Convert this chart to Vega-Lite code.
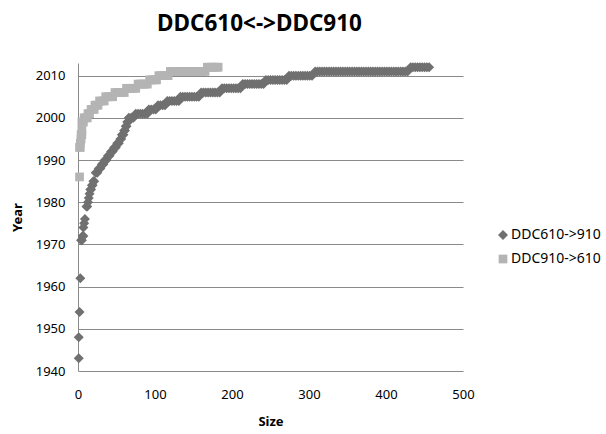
{
  "$schema": "https://vega.github.io/schema/vega-lite/v6.json",
  "width": 385,
  "height": 308,
  "autosize": {"type": "none"},
  "padding": {"left": 78, "top": 63, "right": 143, "bottom": 63},
  "background": "white",
  "title": {
    "text": "DDC610<->DDC910",
    "font": "Noto Sans",
    "fontSize": 22.5,
    "fontWeight": "bold",
    "color": "#000000",
    "anchor": "middle",
    "dx": -11,
    "offset": 27
  },
  "config": {
    "view": {"stroke": null},
    "font": "Noto Sans"
  },
  "datasets": {
    "pts": [
      {"series": "DDC610->910", "size": 1, "year": 1943},
      {"series": "DDC610->910", "size": 1, "year": 1948},
      {"series": "DDC610->910", "size": 2, "year": 1954},
      {"series": "DDC610->910", "size": 3, "year": 1962},
      {"series": "DDC610->910", "size": 4, "year": 1971},
      {"series": "DDC610->910", "size": 5, "year": 1971},
      {"series": "DDC610->910", "size": 6, "year": 1972},
      {"series": "DDC610->910", "size": 7, "year": 1972},
      {"series": "DDC610->910", "size": 7, "year": 1974},
      {"series": "DDC610->910", "size": 8, "year": 1975},
      {"series": "DDC610->910", "size": 9, "year": 1976},
      {"series": "DDC610->910", "size": 11, "year": 1979},
      {"series": "DDC610->910", "size": 12, "year": 1979},
      {"series": "DDC610->910", "size": 13, "year": 1980},
      {"series": "DDC610->910", "size": 14, "year": 1981},
      {"series": "DDC610->910", "size": 15, "year": 1982},
      {"series": "DDC610->910", "size": 16, "year": 1983},
      {"series": "DDC610->910", "size": 17, "year": 1983},
      {"series": "DDC610->910", "size": 18, "year": 1984},
      {"series": "DDC610->910", "size": 19, "year": 1984},
      {"series": "DDC610->910", "size": 20, "year": 1985},
      {"series": "DDC610->910", "size": 21, "year": 1985},
      {"series": "DDC610->910", "size": 23, "year": 1987},
      {"series": "DDC610->910", "size": 25, "year": 1987},
      {"series": "DDC610->910", "size": 27, "year": 1988},
      {"series": "DDC610->910", "size": 29, "year": 1988},
      {"series": "DDC610->910", "size": 31, "year": 1989},
      {"series": "DDC610->910", "size": 33, "year": 1989},
      {"series": "DDC610->910", "size": 35, "year": 1990},
      {"series": "DDC610->910", "size": 37, "year": 1990},
      {"series": "DDC610->910", "size": 39, "year": 1991},
      {"series": "DDC610->910", "size": 41, "year": 1991},
      {"series": "DDC610->910", "size": 43, "year": 1992},
      {"series": "DDC610->910", "size": 45, "year": 1992},
      {"series": "DDC610->910", "size": 47, "year": 1993},
      {"series": "DDC610->910", "size": 49, "year": 1993},
      {"series": "DDC610->910", "size": 51, "year": 1994},
      {"series": "DDC610->910", "size": 53, "year": 1994},
      {"series": "DDC610->910", "size": 55, "year": 1995},
      {"series": "DDC610->910", "size": 56, "year": 1995},
      {"series": "DDC610->910", "size": 57, "year": 1996},
      {"series": "DDC610->910", "size": 59, "year": 1996},
      {"series": "DDC610->910", "size": 60, "year": 1997},
      {"series": "DDC610->910", "size": 61, "year": 1997},
      {"series": "DDC610->910", "size": 62, "year": 1998},
      {"series": "DDC610->910", "size": 63, "year": 1998},
      {"series": "DDC610->910", "size": 64, "year": 1999},
      {"series": "DDC610->910", "size": 65, "year": 1999},
      {"series": "DDC610->910", "size": 66, "year": 2000},
      {"series": "DDC610->910", "size": 69, "year": 2000},
      {"series": "DDC610->910", "size": 72, "year": 2000},
      {"series": "DDC610->910", "size": 75, "year": 2001},
      {"series": "DDC610->910", "size": 78, "year": 2001},
      {"series": "DDC610->910", "size": 81, "year": 2001},
      {"series": "DDC610->910", "size": 84, "year": 2001},
      {"series": "DDC610->910", "size": 87, "year": 2001},
      {"series": "DDC610->910", "size": 90, "year": 2001},
      {"series": "DDC610->910", "size": 92, "year": 2002},
      {"series": "DDC610->910", "size": 95, "year": 2002},
      {"series": "DDC610->910", "size": 98, "year": 2002},
      {"series": "DDC610->910", "size": 101, "year": 2002},
      {"series": "DDC610->910", "size": 104, "year": 2003},
      {"series": "DDC610->910", "size": 107, "year": 2003},
      {"series": "DDC610->910", "size": 110, "year": 2003},
      {"series": "DDC610->910", "size": 113, "year": 2003},
      {"series": "DDC610->910", "size": 116, "year": 2004},
      {"series": "DDC610->910", "size": 119, "year": 2004},
      {"series": "DDC610->910", "size": 122, "year": 2004},
      {"series": "DDC610->910", "size": 125, "year": 2004},
      {"series": "DDC610->910", "size": 128, "year": 2004},
      {"series": "DDC610->910", "size": 131, "year": 2004},
      {"series": "DDC610->910", "size": 133, "year": 2005},
      {"series": "DDC610->910", "size": 136, "year": 2005},
      {"series": "DDC610->910", "size": 139, "year": 2005},
      {"series": "DDC610->910", "size": 142, "year": 2005},
      {"series": "DDC610->910", "size": 145, "year": 2005},
      {"series": "DDC610->910", "size": 148, "year": 2005},
      {"series": "DDC610->910", "size": 151, "year": 2005},
      {"series": "DDC610->910", "size": 154, "year": 2005},
      {"series": "DDC610->910", "size": 157, "year": 2005},
      {"series": "DDC610->910", "size": 160, "year": 2006},
      {"series": "DDC610->910", "size": 163, "year": 2006},
      {"series": "DDC610->910", "size": 166, "year": 2006},
      {"series": "DDC610->910", "size": 169, "year": 2006},
      {"series": "DDC610->910", "size": 172, "year": 2006},
      {"series": "DDC610->910", "size": 175, "year": 2006},
      {"series": "DDC610->910", "size": 178, "year": 2006},
      {"series": "DDC610->910", "size": 181, "year": 2006},
      {"series": "DDC610->910", "size": 184, "year": 2006},
      {"series": "DDC610->910", "size": 187, "year": 2007},
      {"series": "DDC610->910", "size": 190, "year": 2007},
      {"series": "DDC610->910", "size": 193, "year": 2007},
      {"series": "DDC610->910", "size": 196, "year": 2007},
      {"series": "DDC610->910", "size": 199, "year": 2007},
      {"series": "DDC610->910", "size": 202, "year": 2007},
      {"series": "DDC610->910", "size": 205, "year": 2007},
      {"series": "DDC610->910", "size": 208, "year": 2007},
      {"series": "DDC610->910", "size": 211, "year": 2007},
      {"series": "DDC610->910", "size": 214, "year": 2008},
      {"series": "DDC610->910", "size": 217, "year": 2008},
      {"series": "DDC610->910", "size": 220, "year": 2008},
      {"series": "DDC610->910", "size": 223, "year": 2008},
      {"series": "DDC610->910", "size": 226, "year": 2008},
      {"series": "DDC610->910", "size": 229, "year": 2008},
      {"series": "DDC610->910", "size": 232, "year": 2008},
      {"series": "DDC610->910", "size": 235, "year": 2008},
      {"series": "DDC610->910", "size": 238, "year": 2008},
      {"series": "DDC610->910", "size": 241, "year": 2008},
      {"series": "DDC610->910", "size": 244, "year": 2009},
      {"series": "DDC610->910", "size": 247, "year": 2009},
      {"series": "DDC610->910", "size": 250, "year": 2009},
      {"series": "DDC610->910", "size": 253, "year": 2009},
      {"series": "DDC610->910", "size": 256, "year": 2009},
      {"series": "DDC610->910", "size": 259, "year": 2009},
      {"series": "DDC610->910", "size": 262, "year": 2009},
      {"series": "DDC610->910", "size": 265, "year": 2009},
      {"series": "DDC610->910", "size": 268, "year": 2009},
      {"series": "DDC610->910", "size": 271, "year": 2009},
      {"series": "DDC610->910", "size": 274, "year": 2010},
      {"series": "DDC610->910", "size": 277, "year": 2010},
      {"series": "DDC610->910", "size": 280, "year": 2010},
      {"series": "DDC610->910", "size": 283, "year": 2010},
      {"series": "DDC610->910", "size": 286, "year": 2010},
      {"series": "DDC610->910", "size": 289, "year": 2010},
      {"series": "DDC610->910", "size": 292, "year": 2010},
      {"series": "DDC610->910", "size": 295, "year": 2010},
      {"series": "DDC610->910", "size": 298, "year": 2010},
      {"series": "DDC610->910", "size": 301, "year": 2010},
      {"series": "DDC610->910", "size": 304, "year": 2010},
      {"series": "DDC610->910", "size": 308, "year": 2011},
      {"series": "DDC610->910", "size": 311, "year": 2011},
      {"series": "DDC610->910", "size": 314, "year": 2011},
      {"series": "DDC610->910", "size": 317, "year": 2011},
      {"series": "DDC610->910", "size": 320, "year": 2011},
      {"series": "DDC610->910", "size": 323, "year": 2011},
      {"series": "DDC610->910", "size": 326, "year": 2011},
      {"series": "DDC610->910", "size": 329, "year": 2011},
      {"series": "DDC610->910", "size": 332, "year": 2011},
      {"series": "DDC610->910", "size": 335, "year": 2011},
      {"series": "DDC610->910", "size": 338, "year": 2011},
      {"series": "DDC610->910", "size": 341, "year": 2011},
      {"series": "DDC610->910", "size": 344, "year": 2011},
      {"series": "DDC610->910", "size": 347, "year": 2011},
      {"series": "DDC610->910", "size": 350, "year": 2011},
      {"series": "DDC610->910", "size": 353, "year": 2011},
      {"series": "DDC610->910", "size": 356, "year": 2011},
      {"series": "DDC610->910", "size": 359, "year": 2011},
      {"series": "DDC610->910", "size": 362, "year": 2011},
      {"series": "DDC610->910", "size": 365, "year": 2011},
      {"series": "DDC610->910", "size": 368, "year": 2011},
      {"series": "DDC610->910", "size": 371, "year": 2011},
      {"series": "DDC610->910", "size": 374, "year": 2011},
      {"series": "DDC610->910", "size": 377, "year": 2011},
      {"series": "DDC610->910", "size": 380, "year": 2011},
      {"series": "DDC610->910", "size": 383, "year": 2011},
      {"series": "DDC610->910", "size": 386, "year": 2011},
      {"series": "DDC610->910", "size": 389, "year": 2011},
      {"series": "DDC610->910", "size": 392, "year": 2011},
      {"series": "DDC610->910", "size": 395, "year": 2011},
      {"series": "DDC610->910", "size": 398, "year": 2011},
      {"series": "DDC610->910", "size": 401, "year": 2011},
      {"series": "DDC610->910", "size": 404, "year": 2011},
      {"series": "DDC610->910", "size": 407, "year": 2011},
      {"series": "DDC610->910", "size": 410, "year": 2011},
      {"series": "DDC610->910", "size": 413, "year": 2011},
      {"series": "DDC610->910", "size": 416, "year": 2011},
      {"series": "DDC610->910", "size": 419, "year": 2011},
      {"series": "DDC610->910", "size": 422, "year": 2011},
      {"series": "DDC610->910", "size": 425, "year": 2011},
      {"series": "DDC610->910", "size": 428, "year": 2011},
      {"series": "DDC610->910", "size": 432, "year": 2012},
      {"series": "DDC610->910", "size": 435, "year": 2012},
      {"series": "DDC610->910", "size": 438, "year": 2012},
      {"series": "DDC610->910", "size": 441, "year": 2012},
      {"series": "DDC610->910", "size": 444, "year": 2012},
      {"series": "DDC610->910", "size": 447, "year": 2012},
      {"series": "DDC610->910", "size": 450, "year": 2012},
      {"series": "DDC610->910", "size": 453, "year": 2012},
      {"series": "DDC610->910", "size": 456, "year": 2012},
      {"series": "DDC910->610", "size": 2, "year": 1986},
      {"series": "DDC910->610", "size": 2, "year": 1993},
      {"series": "DDC910->610", "size": 3, "year": 1993},
      {"series": "DDC910->610", "size": 3, "year": 1994},
      {"series": "DDC910->610", "size": 4, "year": 1995},
      {"series": "DDC910->610", "size": 4, "year": 1996},
      {"series": "DDC910->610", "size": 5, "year": 1996},
      {"series": "DDC910->610", "size": 5, "year": 1997},
      {"series": "DDC910->610", "size": 5, "year": 1999},
      {"series": "DDC910->610", "size": 7, "year": 1999},
      {"series": "DDC910->610", "size": 8, "year": 2000},
      {"series": "DDC910->610", "size": 10, "year": 2000},
      {"series": "DDC910->610", "size": 12, "year": 2000},
      {"series": "DDC910->610", "size": 13, "year": 2001},
      {"series": "DDC910->610", "size": 15, "year": 2001},
      {"series": "DDC910->610", "size": 17, "year": 2002},
      {"series": "DDC910->610", "size": 19, "year": 2002},
      {"series": "DDC910->610", "size": 21, "year": 2002},
      {"series": "DDC910->610", "size": 22, "year": 2003},
      {"series": "DDC910->610", "size": 24, "year": 2003},
      {"series": "DDC910->610", "size": 26, "year": 2003},
      {"series": "DDC910->610", "size": 28, "year": 2004},
      {"series": "DDC910->610", "size": 31, "year": 2004},
      {"series": "DDC910->610", "size": 34, "year": 2004},
      {"series": "DDC910->610", "size": 36, "year": 2005},
      {"series": "DDC910->610", "size": 39, "year": 2005},
      {"series": "DDC910->610", "size": 42, "year": 2005},
      {"series": "DDC910->610", "size": 45, "year": 2005},
      {"series": "DDC910->610", "size": 48, "year": 2006},
      {"series": "DDC910->610", "size": 51, "year": 2006},
      {"series": "DDC910->610", "size": 54, "year": 2006},
      {"series": "DDC910->610", "size": 57, "year": 2006},
      {"series": "DDC910->610", "size": 60, "year": 2006},
      {"series": "DDC910->610", "size": 63, "year": 2007},
      {"series": "DDC910->610", "size": 66, "year": 2007},
      {"series": "DDC910->610", "size": 69, "year": 2007},
      {"series": "DDC910->610", "size": 72, "year": 2007},
      {"series": "DDC910->610", "size": 75, "year": 2007},
      {"series": "DDC910->610", "size": 78, "year": 2008},
      {"series": "DDC910->610", "size": 81, "year": 2008},
      {"series": "DDC910->610", "size": 84, "year": 2008},
      {"series": "DDC910->610", "size": 87, "year": 2008},
      {"series": "DDC910->610", "size": 90, "year": 2008},
      {"series": "DDC910->610", "size": 93, "year": 2009},
      {"series": "DDC910->610", "size": 96, "year": 2009},
      {"series": "DDC910->610", "size": 99, "year": 2009},
      {"series": "DDC910->610", "size": 102, "year": 2009},
      {"series": "DDC910->610", "size": 105, "year": 2010},
      {"series": "DDC910->610", "size": 108, "year": 2010},
      {"series": "DDC910->610", "size": 111, "year": 2010},
      {"series": "DDC910->610", "size": 114, "year": 2010},
      {"series": "DDC910->610", "size": 117, "year": 2010},
      {"series": "DDC910->610", "size": 120, "year": 2011},
      {"series": "DDC910->610", "size": 123, "year": 2011},
      {"series": "DDC910->610", "size": 126, "year": 2011},
      {"series": "DDC910->610", "size": 129, "year": 2011},
      {"series": "DDC910->610", "size": 132, "year": 2011},
      {"series": "DDC910->610", "size": 135, "year": 2011},
      {"series": "DDC910->610", "size": 138, "year": 2011},
      {"series": "DDC910->610", "size": 141, "year": 2011},
      {"series": "DDC910->610", "size": 144, "year": 2011},
      {"series": "DDC910->610", "size": 147, "year": 2011},
      {"series": "DDC910->610", "size": 150, "year": 2011},
      {"series": "DDC910->610", "size": 153, "year": 2011},
      {"series": "DDC910->610", "size": 156, "year": 2011},
      {"series": "DDC910->610", "size": 159, "year": 2011},
      {"series": "DDC910->610", "size": 162, "year": 2011},
      {"series": "DDC910->610", "size": 165, "year": 2011},
      {"series": "DDC910->610", "size": 168, "year": 2012},
      {"series": "DDC910->610", "size": 171, "year": 2012},
      {"series": "DDC910->610", "size": 174, "year": 2012},
      {"series": "DDC910->610", "size": 177, "year": 2012},
      {"series": "DDC910->610", "size": 180, "year": 2012},
      {"series": "DDC910->610", "size": 182, "year": 2012}
    ]
  },
  "data": {"name": "pts"},
  "mark": {"type": "point", "filled": true, "opacity": 1, "strokeWidth": 0},
  "encoding": {
    "x": {
      "field": "size",
      "type": "quantitative",
      "scale": {"domain": [0, 500], "nice": false, "zero": true},
      "axis": {
        "title": "Size",
        "values": [0, 100, 200, 300, 400, 500],
        "grid": false,
        "ticks": false,
        "domain": false,
        "labelFlush": false,
        "labelFont": "Noto Sans",
        "labelFontSize": 13,
        "labelColor": "#000000",
        "labelPadding": 17,
        "titleFont": "Noto Sans",
        "titleFontSize": 13,
        "titleFontWeight": "bold",
        "titleColor": "#000000",
        "titlePadding": 14
      }
    },
    "y": {
      "field": "year",
      "type": "quantitative",
      "scale": {"domain": [1940, 2013], "nice": false, "zero": false},
      "axis": {
        "title": "Year",
        "format": "d",
        "values": [1940, 1950, 1960, 1970, 1980, 1990, 2000, 2010],
        "grid": true,
        "gridColor": "#8a8a8a",
        "gridWidth": 1,
        "ticks": false,
        "domain": true,
        "domainColor": "#8a8a8a",
        "labelFlush": false,
        "labelFont": "Noto Sans",
        "labelFontSize": 13,
        "labelColor": "#000000",
        "labelPadding": 13,
        "titleFont": "Noto Sans",
        "titleFontSize": 13,
        "titleFontWeight": "bold",
        "titleColor": "#000000",
        "titlePadding": 11
      }
    },
    "size": {
      "field": "series",
      "type": "nominal",
      "scale": {"domain": ["DDC610->910", "DDC910->610"], "range": [100, 76]},
      "legend": null
    },
    "color": {
      "field": "series",
      "type": "nominal",
      "scale": {"domain": ["DDC610->910", "DDC910->610"], "range": ["#707070", "#b4b4b4"]},
      "legend": {
        "title": null,
        "orient": "none",
        "legendX": 418,
        "legendY": 165,
        "labelFont": "Noto Sans",
        "labelFontSize": 14,
        "labelColor": "#000000",
        "symbolSize": 64,
        "rowPadding": 10,
        "labelOffset": 1
      }
    },
    "shape": {
      "field": "series",
      "type": "nominal",
      "scale": {"domain": ["DDC610->910", "DDC910->610"], "range": ["diamond", "square"]},
      "legend": {
        "title": null,
        "orient": "none",
        "legendX": 418,
        "legendY": 165,
        "labelFont": "Noto Sans",
        "labelFontSize": 14,
        "labelColor": "#000000",
        "symbolSize": 64,
        "rowPadding": 10,
        "labelOffset": 1
      }
    }
  }
}
